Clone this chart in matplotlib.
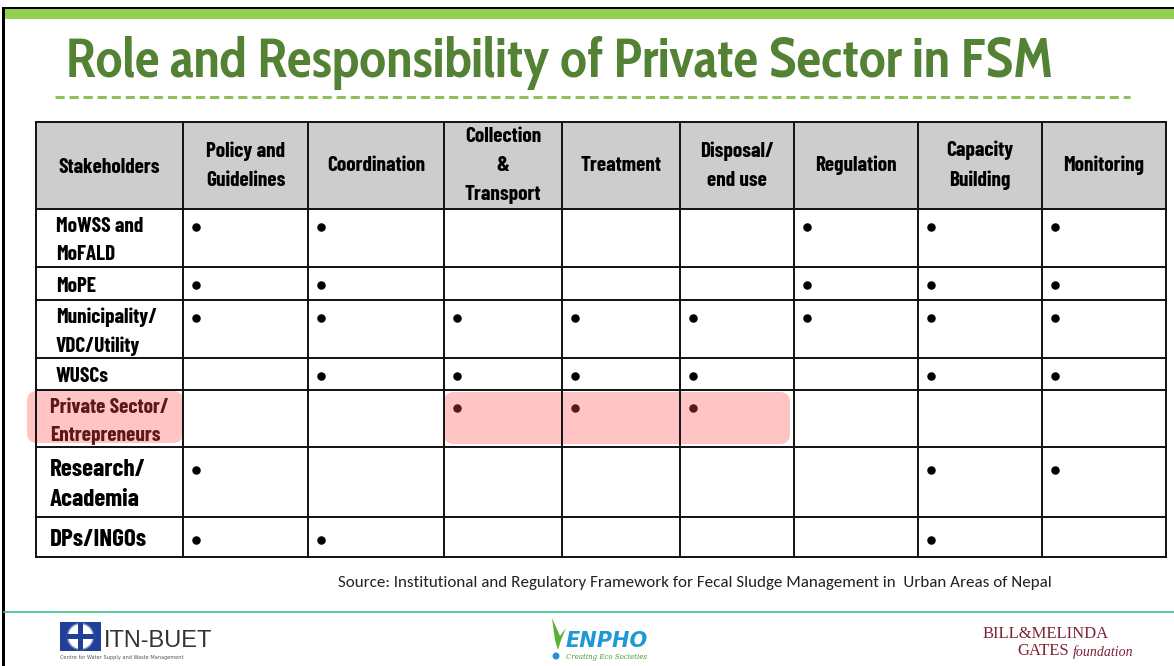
import matplotlib
matplotlib.use("Agg")
import matplotlib.pyplot as plt
from matplotlib.patches import Rectangle, FancyBboxPatch, Circle, Polygon

# table content
columns = ["Policy and\nGuidelines", "Coordination", "Collection\n&\nTransport", "Treatment",
           "Disposal/\nend use", "Regulation", "Capacity\nBuilding", "Monitoring"]
stakeholders = ["MoWSS and\nMoFALD", "MoPE", "Municipality/\nVDC/Utility", "WUSCs",
                "Private Sector/\nEntrepreneurs", "Research/\nAcademia", "DPs/INGOs"]
# 1 = role marked with a dot
roles = [
    [1, 1, 0, 0, 0, 1, 1, 1],
    [1, 1, 0, 0, 0, 1, 1, 1],
    [1, 1, 1, 1, 1, 1, 1, 1],
    [0, 1, 1, 1, 1, 0, 1, 1],
    [0, 0, 1, 1, 1, 0, 0, 0],
    [1, 0, 0, 0, 0, 0, 1, 1],
    [1, 1, 0, 0, 0, 0, 1, 0],
]
highlight_row = 4
title = "Role and Responsibility of Private Sector in FSM"
source = "Source: Institutional and Regulatory Framework for Fecal Sludge Management in  Urban Areas of Nepal"

W, H = 1174, 666
fig = plt.figure(figsize=(W / 100, H / 100), dpi=100)
ax = fig.add_axes([0, 0, 1, 1])
ax.set_xlim(0, W)
ax.set_ylim(H, 0)
ax.axis("off")

narrow = ["Barlow Condensed", "Roboto Condensed", "DejaVu Sans"]
serif = ["Liberation Serif", "DejaVu Serif"]
gates_red = "#7b2436"


def right_of(t):
    fig.canvas.draw()
    bb = t.get_window_extent().transformed(ax.transData.inverted())
    return max(bb.x0, bb.x1)


def fit_width(t, width):
    fig.canvas.draw()
    w = t.get_window_extent().width
    t.set_fontsize(t.get_fontsize() * width / w)


# slide frame and top bar
ax.add_patch(Rectangle((3, 7), W, 2, color="black", lw=0))
ax.add_patch(Rectangle((2, 7), 2.5, H, color="black", lw=0))
ax.add_patch(Rectangle((4.5, 9), W, 10, color="#92d050", lw=0))

# title, fitted to the reference width
t = ax.text(66, 63, title, fontsize=30, fontweight="bold", color="#548235",
            family=["Cabin Condensed", "Lato", "DejaVu Sans"], va="center", ha="left")
fit_width(t, 986)
ax.plot([55, 1130], [97, 97], color="#8dbf5a", lw=2.2, ls=(0, (3, 1.6)))

# grid geometry (pixels)
col_edges = [36, 183, 308, 444, 562, 680, 794, 918, 1042, 1166]
row_edges = [122, 209, 267, 300, 358, 390, 447, 517, 557]

ax.add_patch(Rectangle((col_edges[0], row_edges[0]), col_edges[-1] - col_edges[0],
                       row_edges[1] - row_edges[0], color="#cdcdcd", lw=0, zorder=1))
for x in col_edges:
    ax.plot([x, x], [row_edges[0], row_edges[-1]], color="#111111", lw=1.4, zorder=3)
for y in row_edges:
    ax.plot([col_edges[0], col_edges[-1]], [y, y], color="#111111", lw=1.4, zorder=3)

# pink highlights (under the text, the way the slide overlay tints it)
ax.add_patch(FancyBboxPatch((32, 396), 146, 42, boxstyle="round,pad=5,rounding_size=10",
                            fc="#ffc4c4", ec="none", zorder=2))
ax.add_patch(FancyBboxPatch((449, 397), 336, 42, boxstyle="round,pad=5,rounding_size=10",
                            fc="#ffc4c4", ec="none", zorder=2))

# header
hy = (row_edges[0] + row_edges[1]) / 2
head = ax.text((col_edges[0] + col_edges[1]) / 2, hy + 2, "Stakeholders", ha="center",
               va="center", fontsize=15, fontweight="bold", family=narrow, zorder=4)
fit_width(head, 102)
fs = head.get_fontsize()
for j, c in enumerate(columns):
    cx = (col_edges[j + 1] + col_edges[j + 2]) / 2
    ax.text(cx, hy, c, ha="center", va="center", fontsize=fs, fontweight="bold",
            family=narrow, linespacing=1.65, zorder=4)

# row labels and dots
for i, s in enumerate(stakeholders):
    top, bot = row_edges[i + 1], row_edges[i + 2]
    big = i >= 5
    ink = "#5e1818" if i == highlight_row else "black"
    lx = 50 if i in (4, 5, 6) else 56
    ax.text(lx, (top + bot) / 2 + 3, s, ha="left", va="center",
            fontsize=fs * 1.18 if big else fs, fontweight="bold", family=narrow,
            color=ink, linespacing=1.6 if not big else 1.5, zorder=4)
    xs = [col_edges[j + 1] + 13 for j in range(len(columns)) if roles[i][j]]
    ys = [top + (23 if big else 18)] * len(xs)
    ax.scatter(xs, ys, s=26, color=ink, zorder=4)

src = ax.text(338, 583, source, ha="left", va="center", fontsize=12,
              family=["Carlito", "Lato", "DejaVu Sans"], color="#222222")
fit_width(src, 714)

# footer
ax.plot([4, W], [612, 612], color="#3bbf8f", lw=1.2)

# ITN-BUET logo
ax.add_patch(Rectangle((60, 622), 41, 29, fc="#1f3f9a", ec="#1f3f9a", lw=0))
ax.add_patch(Circle((80.5, 636.5), 13, fc="white", ec="#7f8fc0", lw=1))
ax.add_patch(Rectangle((67, 634), 27, 5, fc="#1f3f9a", lw=0))
ax.add_patch(Rectangle((78, 623), 5, 27, fc="#1f3f9a", lw=0))
ax.text(104, 641, "ITN-BUET", ha="left", va="center", fontsize=17, color="#333333",
        family=["Liberation Sans", "DejaVu Sans"])
ax.text(60, 658, "Centre for Water Supply and Waste Management", ha="left", va="center",
        fontsize=3.6, color="#555555")

# ENPHO logo
ax.add_patch(Polygon([[552, 618], [560, 636], [566, 628], [561, 640], [558, 650], [555, 640]],
                     closed=True, fc="#5ab031", ec="none"))
ax.add_patch(Circle((556, 656), 3.5, fc="#2a8fd8", ec="none"))
ax.text(566, 641, "ENPHO", ha="left", va="center", fontsize=15, fontweight="bold",
        fontstyle="italic", color="#1d9ad6", family=["DejaVu Sans"])
ax.text(566, 657, "Creating Eco Societies", ha="left", va="center", fontsize=5,
        fontstyle="italic", color="#4a9a30", family=["DejaVu Serif"])

# Gates foundation logo
ax.text(983, 634, "BILL&MELINDA", ha="left", va="center", fontsize=12, color=gates_red,
        family=serif)
g = ax.text(1017, 651, "GATES", ha="left", va="center", fontsize=12, color=gates_red,
            family=serif)
ax.text(right_of(g) + 4, 652, "foundation", ha="left", va="center", fontsize=10,
        fontstyle="italic", color=gates_red, family=serif)

fig.savefig("out.png", dpi=100)
